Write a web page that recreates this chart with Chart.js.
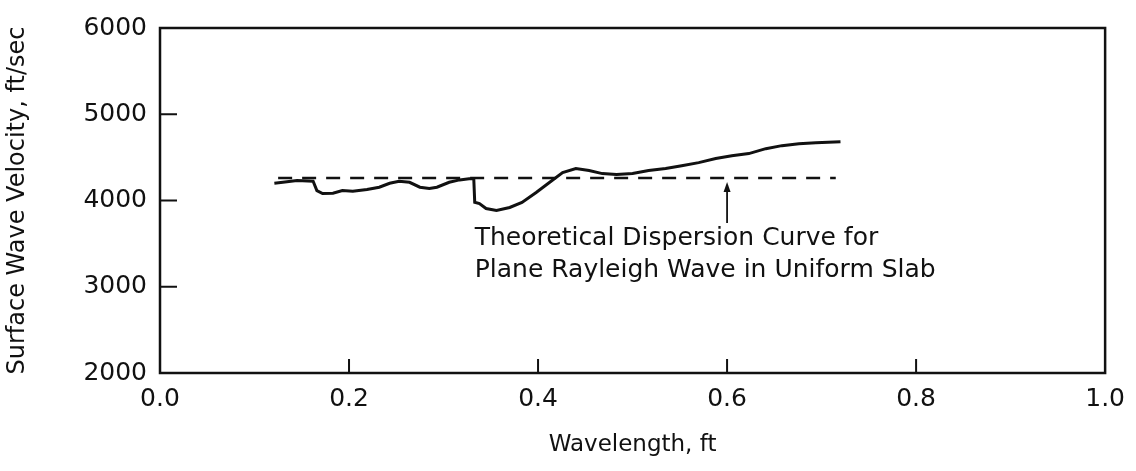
<!DOCTYPE html>
<html>
<head>
<meta charset="utf-8">
<script src="https://cdn.jsdelivr.net/npm/chart.js@4/dist/chart.umd.min.js"></script>
<style>
  html,body{margin:0;padding:0;background:#fff;}
  #wrap{width:1136px;height:471px;position:relative;}
</style>
</head>
<body>
<div id="wrap"><canvas id="chart"></canvas></div>
<script>
// measured curve (wavelength ft, velocity ft/sec)
const wavelengthFt = [0.121,0.130,0.145,0.162,0.166,0.172,0.183,0.193,0.204,0.219,0.232,0.243,0.253,0.264,0.275,0.285,0.293,0.306,0.317,0.327,0.332,0.333,0.338,0.345,0.356,0.370,0.383,0.398,0.412,0.426,0.440,0.454,0.468,0.483,0.500,0.517,0.535,0.552,0.570,0.588,0.605,0.623,0.641,0.658,0.676,0.694,0.720];
const velocityFps  = [4200,4211,4231,4223,4115,4080,4084,4115,4107,4127,4154,4200,4223,4211,4154,4139,4154,4211,4239,4251,4251,3980,3965,3907,3884,3919,3977,4092,4208,4324,4370,4347,4312,4301,4312,4347,4370,4404,4439,4486,4520,4544,4601,4636,4659,4670,4682];

// theoretical dispersion curve (dashed)
const theoryWavelengthFt = [0.125, 0.715];
const theoryVelocityFps  = [4260, 4260];

const xTicks = [0.0, 0.2, 0.4, 0.6, 0.8, 1.0];
const yTicks = [2000, 3000, 4000, 5000, 6000];

const noteLines = ['Theoretical Dispersion Curve for', 'Plane Rayleigh Wave in Uniform Slab'];

const FONT = '"DejaVu Sans", "Liberation Sans", sans-serif';
const INK = '#111';

const toPts = (xs, ys) => xs.map((x,i)=>({x, y: ys[i]}));

// box + inward tick marks + arrow note
const framePlugin = {
  id: 'frame',
  afterDraw(chart){
    const {ctx, chartArea:a, scales:{x, y}} = chart;
    ctx.save();
    ctx.strokeStyle = INK;
    ctx.lineWidth = 2.5;
    ctx.strokeRect(a.left, a.top, a.right-a.left, a.bottom-a.top);

    ctx.lineWidth = 2;
    ctx.beginPath();
    for (const v of xTicks.slice(1,-1)){
      const px = x.getPixelForValue(v);
      ctx.moveTo(px, a.bottom); ctx.lineTo(px, a.bottom-14);
    }
    for (const v of yTicks.slice(1,-1)){
      const py = y.getPixelForValue(v);
      ctx.moveTo(a.left, py); ctx.lineTo(a.left+17, py);
    }
    ctx.stroke();

    // note text
    ctx.fillStyle = INK;
    ctx.font = `25px ${FONT}`;
    ctx.textBaseline = 'middle';
    const tx = x.getPixelForValue(0.333);
    ctx.fillText(noteLines[0], tx, y.getPixelForValue(3560));
    ctx.fillText(noteLines[1], tx, y.getPixelForValue(3185));

    // arrow up to the dashed line
    const ax = x.getPixelForValue(0.6);
    const y0 = y.getPixelForValue(3740);
    const y1 = y.getPixelForValue(4215);
    ctx.lineWidth = 1.8;
    ctx.beginPath(); ctx.moveTo(ax, y0); ctx.lineTo(ax, y1+6); ctx.stroke();
    ctx.beginPath();
    ctx.moveTo(ax, y1); ctx.lineTo(ax-3.5, y1+10); ctx.lineTo(ax+3.5, y1+10); ctx.closePath();
    ctx.fill();
    ctx.restore();
  }
};

new Chart(document.getElementById('chart'), {
  type: 'scatter',
  data: {
    datasets: [
      {
        label: 'Measured',
        data: toPts(wavelengthFt, velocityFps),
        showLine: true,
        borderColor: INK,
        borderWidth: 3,
        pointRadius: 0,
        tension: 0
      },
      {
        label: 'Theoretical',
        data: toPts(theoryWavelengthFt, theoryVelocityFps),
        showLine: true,
        borderColor: INK,
        borderWidth: 2.5,
        borderDash: [14, 10],
        pointRadius: 0
      }
    ]
  },
  options: {
    responsive: true,
    maintainAspectRatio: false,
    animation: false,
    layout: { padding: { top: 27, right: 29, left: 0, bottom: 0 } },
    plugins: { legend: { display: false }, tooltip: { enabled: false } },
    scales: {
      x: {
        type: 'linear', min: 0, max: 1,
        afterBuildTicks: s => { s.ticks = xTicks.map(v=>({value:v})); },
        afterFit: s => { s.height = 98; },
        grid: { display: false, drawTicks: false },
        border: { display: false },
        ticks: { color: INK, padding: 11, font: { family: FONT, size: 25 },
                 callback: v => Number(v).toFixed(1) },
        title: { display: true, text: 'Wavelength, ft', color: INK,
                 font: { family: FONT, size: 23 }, padding: { top: 0, bottom: 12 } }
      },
      y: {
        type: 'linear', min: 2000, max: 6000,
        afterBuildTicks: s => { s.ticks = yTicks.map(v=>({value:v})); },
        afterFit: s => { s.width = 160; },
        grid: { display: false, drawTicks: false },
        border: { display: false },
        ticks: { color: INK, padding: 13, font: { family: FONT, size: 25 },
                 callback: v => String(v) },
        title: { display: true, text: 'Surface Wave Velocity, ft/sec', color: INK,
                 font: { family: FONT, size: 24 }, padding: { top: 3, bottom: 0 } }
      }
    }
  },
  plugins: [framePlugin]
});
</script>
</body>
</html>
